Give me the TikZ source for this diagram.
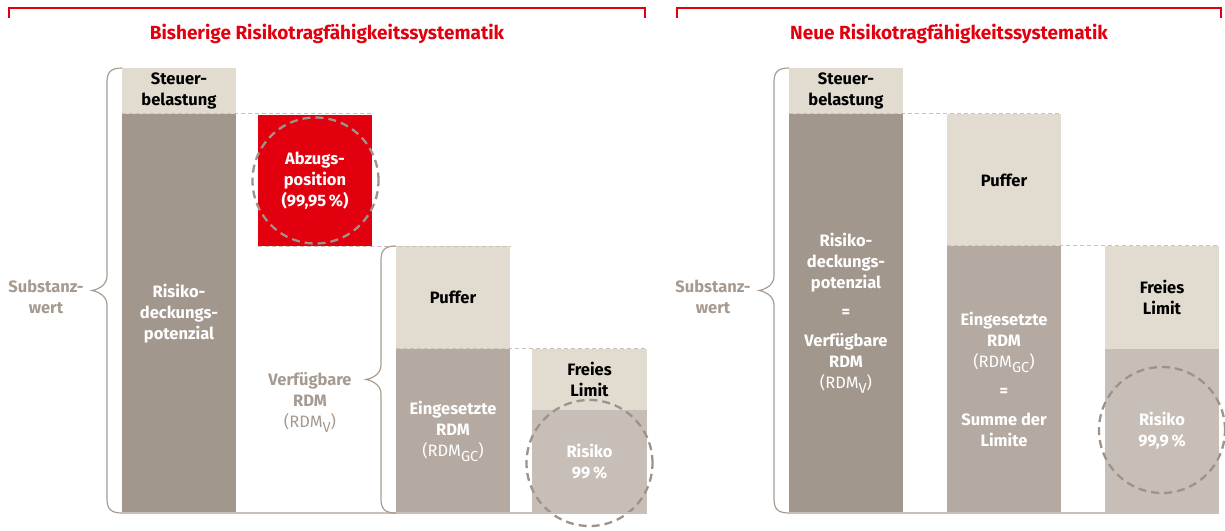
\documentclass[tikz,border=0pt]{standalone}
\usepackage{fontspec}
\setmainfont{Fira Sans}
\usepackage{tikz}
\definecolor{SkRed}{RGB}{226,0,15}
\definecolor{SkBeige}{RGB}{225,219,208}
\definecolor{SkDark}{RGB}{161,151,141}
\definecolor{SkMid}{RGB}{180,170,161}
\definecolor{SkLight}{RGB}{199,190,183}
\definecolor{SkText}{RGB}{166,154,144}
\definecolor{SkLine}{RGB}{200,192,185}
\definecolor{SkBrace}{RGB}{168,156,146}
\definecolor{SkCircle}{RGB}{158,147,138}
\newcommand{\bodyfont}{\fontsize{16.5}{21}\selectfont}
\newcommand{\titlefont}{\fontsize{19}{21}\selectfont}
\newcommand{\rdmidx}[1]{\raisebox{-0.3em}{\fontsize{14.5}{14.5}\selectfont #1}}

\begin{document}
\begin{tikzpicture}[x=1pt,y=-1pt,
  blk/.style n args={4}{rectangle,fill=#1,minimum width=#2,minimum height=#3,inner sep=0pt,align=center,text=#4,font=\bodyfont\bfseries},
  ring/.style={circle,draw=SkCircle,line width=2.3pt,dash pattern=on 8pt off 5pt,minimum size=126pt,inner sep=0pt},
  lvl/.style={draw=SkLine,line width=1.2pt,dash pattern=on 4pt off 3pt},
  brc/.style={draw=SkBrace,line width=1.2pt},
  lbl/.style={align=center,text=SkText,font=\bodyfont\bfseries},
  ttl/.style={text=SkRed,font=\titlefont\bfseries}]
\useasboundingbox (0,0) rectangle (1225,530);
% headings with red brackets
\foreach \xa/\xb/\t in {9/645/Bisherige,677/1221/Neue} {
   \draw[SkRed,line width=1.5pt] (\xa,18) -- (\xa,8) -- (\xb,8) -- (\xb,18);
   \node[ttl] (ttl\t) at ({(\xa+\xb)/2},34) {\t{} Risikotragfähigkeitssystematik};
}

% ---- bisherige Systematik
\node[blk={SkBeige}{114pt}{46pt}{black}] (steuerA) at (179,91) {Steuer-\\belastung};
\node[blk={SkDark}{114pt}{399pt}{white}] (rdpA) at (179,313.5) {Risiko-\\deckungs-\\potenzial};
\node[blk={SkRed}{114pt}{131pt}{white}] (abzug) at (315,180.5) {Abzugs-\\position\\(99,95\,\%)};
\node[blk={SkBeige}{114pt}{103pt}{black}] (pufferA) at (453,297.5) {Puffer};
\node[blk={SkMid}{114pt}{164pt}{white}] (einsA) at (453,431) {Eingesetzte\\RDM\\{\mdseries(RDM\rdmidx{GC})}};
\node[blk={SkBeige}{115pt}{61pt}{black}] (freiA) at (589.5,379.5) {Freies\\Limit};
\node[blk={SkLight}{115pt}{103pt}{white}] (risikoA) at (589.5,461.5) {Risiko\\99\,\%};
\draw[lvl] (rdpA.north west) -- (rdpA.north west -| abzug.north east);
\draw[lvl] (abzug.south west) -- (abzug.south west -| pufferA.north east);
\draw[lvl] (einsA.north west) -- (einsA.north west -| freiA.north east);
\node[ring] (ringAbzug) at (315.5,180.5) {};
\node[ring] (ringRisikoA) at (589.5,463) {};
\draw[SkLine,line width=1.5pt] (rdpA.south west) -- (risikoA.south east);
\draw[brc] (122,68) .. controls (111,68) and (107,72) .. (107,82) -- (107,276)
   .. controls (107,284) and (100,289) .. (92,290.5) .. controls (100,292) and (107,297) .. (107,305)
   -- (107,499) .. controls (107,509) and (111,513) .. (122,513);
\draw[brc] (396,246) .. controls (385,246) and (381,250) .. (381,260) -- (381,365)
   .. controls (381,373) and (374,378) .. (366,379.5) .. controls (374,381) and (381,386) .. (381,394)
   -- (381,499) .. controls (381,509) and (385,513) .. (396,513);
\node[lbl] (substA) at (46,296.5) {Substanz-\\wert};
\node[lbl] (rdmvA) at (310,402) {Verfügbare\\RDM\\{\mdseries(RDM\rdmidx{V})}};

% ---- neue Systematik
\node[blk={SkBeige}{114pt}{46pt}{black}] (steuerB) at (846,91) {Steuer-\\belastung};
\node[blk={SkDark}{114pt}{399pt}{white}] (rdpB) at (846,313.5)
   {Risiko-\\deckungs-\\potenzial\\[8pt]=\\[8pt]Verfügbare\\RDM\\{\mdseries(RDM\rdmidx{V})}};
\node[blk={SkBeige}{114pt}{132pt}{black}] (pufferB) at (1004,180) {Puffer};
\node[blk={SkMid}{114pt}{267pt}{white}] (einsB) at (1004,379.5)
   {Eingesetzte\\RDM\\{\mdseries(RDM\rdmidx{GC})}\\[8pt]=\\[8pt]Summe der\\Limite};
\node[blk={SkBeige}{114pt}{103pt}{black}] (freiB) at (1162,297.5) {Freies\\Limit};
\node[blk={SkLight}{114pt}{164pt}{white}] (risikoB) at (1162,431) {Risiko\\99,9\,\%};
\draw[lvl] (rdpB.north west) -- (rdpB.north west -| pufferB.north east);
\draw[lvl] (einsB.north west) -- (einsB.north west -| freiB.north east);
\node[ring] (ringRisikoB) at (1162,430) {};
\draw[SkLine,line width=1.5pt] (rdpB.south west) -- (risikoB.south east);
\draw[brc] (789,68) .. controls (778,68) and (774,72) .. (774,82) -- (774,276)
   .. controls (774,284) and (767,289) .. (759,290.5) .. controls (767,292) and (774,297) .. (774,305)
   -- (774,499) .. controls (774,509) and (778,513) .. (789,513);
\node[lbl] (substB) at (713,296.5) {Substanz-\\wert};
\end{tikzpicture}
\end{document}
